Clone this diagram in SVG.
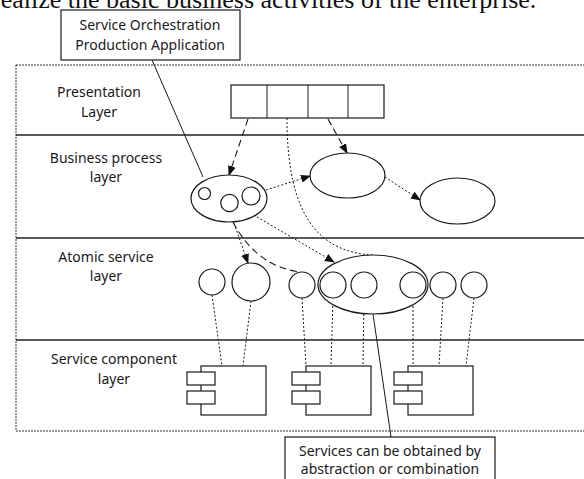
<svg xmlns="http://www.w3.org/2000/svg" width="584" height="479" viewBox="0 0 584 479">
<style>
.lbl{font-family:"Noto Sans","Open Sans",sans-serif;font-size:14px;fill:#1a1a1a;text-anchor:middle}
.ttl{font-family:"Liberation Serif","Times New Roman",serif;font-size:26px;fill:#111}
.sh{fill:#fff;stroke:#1a1a1a;stroke-width:1.2}
.sep{stroke:#222;stroke-width:1.6}
.dot{fill:none;stroke:#1a1a1a;stroke-width:1;stroke-dasharray:2,2}
.dash{fill:none;stroke:#1a1a1a;stroke-width:1.1;stroke-dasharray:7,4}
.sol{fill:none;stroke:#1a1a1a;stroke-width:1}
</style>
<defs>
<marker id="ah" markerUnits="userSpaceOnUse" markerWidth="10" markerHeight="8" refX="9" refY="4" orient="auto">
<path d="M0,0 L10,4 L0,8 Z" fill="#111"/>
</marker>
</defs>
<rect width="584" height="479" fill="#fff"/>
<text class="ttl" x="-8" y="8">realize the basic business activities of the enterprise.</text>

<g id="layers">
<rect x="16" y="65" width="580" height="366" fill="none" stroke="#333" stroke-width="1" stroke-dasharray="2,1"/>
<line class="sep" x1="16" y1="135" x2="584" y2="135"/>
<line class="sep" x1="16" y1="238" x2="584" y2="238"/>
<line class="sep" x1="16" y1="340" x2="584" y2="340"/>
<text class="lbl" x="99" y="97">Presentation</text>
<text class="lbl" x="99" y="117">Layer</text>
<text class="lbl" x="106" y="163">Business process</text>
<text class="lbl" x="106" y="182">layer</text>
<text class="lbl" x="106" y="262">Atomic service</text>
<text class="lbl" x="106" y="281">layer</text>
<text class="lbl" x="114" y="364">Service component</text>
<text class="lbl" x="114" y="384">layer</text>
</g>

<g id="connectors">
<line class="sol" x1="152" y1="60" x2="203" y2="177"/>
<line class="sol" x1="373" y1="314" x2="391" y2="437"/>
<line class="dash" x1="248" y1="119" x2="229" y2="175" marker-end="url(#ah)"/>
<line class="dash" x1="328" y1="119" x2="347" y2="153" marker-end="url(#ah)"/>
<path class="dot" d="M287,118 C287,215 318,252 373,255"/>
<line class="dot" x1="266" y1="190" x2="310" y2="176" marker-end="url(#ah)"/>
<line class="dot" x1="385" y1="177" x2="420" y2="200" marker-end="url(#ah)"/>
<line class="dot" x1="257" y1="217" x2="334" y2="262" marker-end="url(#ah)"/>
<line class="dot" x1="230" y1="212" x2="248" y2="263" marker-end="url(#ah)"/>
<path class="dash" d="M233,222 Q256,266 300,272"/>
<line class="sol" x1="210" y1="196" x2="221" y2="202" marker-end="url(#ah)"/>
<line class="dot" x1="212" y1="295" x2="222" y2="366"/>
<line class="dot" x1="251" y1="301" x2="243" y2="366"/>
<line class="dot" x1="302" y1="298" x2="306" y2="366"/>
<line class="dot" x1="333" y1="298" x2="331" y2="366"/>
<line class="dot" x1="364" y1="298" x2="363" y2="366"/>
<line class="dot" x1="413" y1="298" x2="413" y2="366"/>
<line class="dot" x1="443" y1="298" x2="439" y2="366"/>
<line class="dot" x1="474" y1="298" x2="466" y2="366"/>
</g>

<g id="callout-orchestration">
<rect class="sh" x="61" y="10" width="179" height="50"/>
<text class="lbl" x="150" y="30">Service Orchestration</text>
<text class="lbl" x="150" y="50">Production Application</text>
</g>

<g id="presentation-bar">
<rect class="sh" x="231" y="85" width="153" height="33"/>
<line class="sol" x1="267" y1="85" x2="267" y2="118"/>
<line class="sol" x1="308" y1="85" x2="308" y2="118"/>
<line class="sol" x1="348" y1="85" x2="348" y2="118"/>
</g>

<g id="process-composite">
<ellipse class="sh" cx="229" cy="198.5" rx="38" ry="23.5"/>
<circle class="sh" cx="204.5" cy="193.5" r="6"/>
<circle class="sh" cx="229.5" cy="203" r="8.7"/>
<circle class="sh" cx="251" cy="196" r="9"/>
</g>
<g id="process-2"><ellipse class="sh" cx="347.5" cy="175.5" rx="37.5" ry="22.5"/></g>
<g id="process-3"><ellipse class="sh" cx="457.5" cy="201" rx="37.5" ry="23"/></g>

<g id="service-group"><ellipse class="sh" cx="373" cy="284.5" rx="55" ry="29.5"/></g>
<g id="atomic-1"><circle class="sh" cx="212" cy="282" r="13"/></g>
<g id="atomic-2"><circle class="sh" cx="251" cy="282" r="19"/></g>
<g id="atomic-3"><circle class="sh" cx="302" cy="285" r="13"/></g>
<g id="atomic-4"><circle class="sh" cx="333" cy="285" r="13"/></g>
<g id="atomic-5"><circle class="sh" cx="364" cy="285" r="13"/></g>
<g id="atomic-6"><circle class="sh" cx="413" cy="285" r="13"/></g>
<g id="atomic-7"><circle class="sh" cx="443" cy="285" r="13"/></g>
<g id="atomic-8"><circle class="sh" cx="474" cy="285" r="13"/></g>

<g id="component-1">
<rect class="sh" x="201" y="366" width="65" height="49"/>
<rect class="sh" x="187" y="372" width="28" height="13"/>
<rect class="sh" x="187" y="391" width="28" height="13"/>
</g>
<g id="component-2">
<rect class="sh" x="306" y="366" width="65" height="49"/>
<rect class="sh" x="292" y="372" width="28" height="13"/>
<rect class="sh" x="292" y="391" width="28" height="13"/>
</g>
<g id="component-3">
<rect class="sh" x="408" y="366" width="65" height="49"/>
<rect class="sh" x="394" y="372" width="28" height="13"/>
<rect class="sh" x="394" y="391" width="28" height="13"/>
</g>

<g id="callout-services">
<rect class="sh" x="285" y="437" width="210" height="50"/>
<text class="lbl" x="390" y="456">Services can be obtained by</text>
<text class="lbl" x="390" y="474">abstraction or combination</text>
</g>
</svg>
